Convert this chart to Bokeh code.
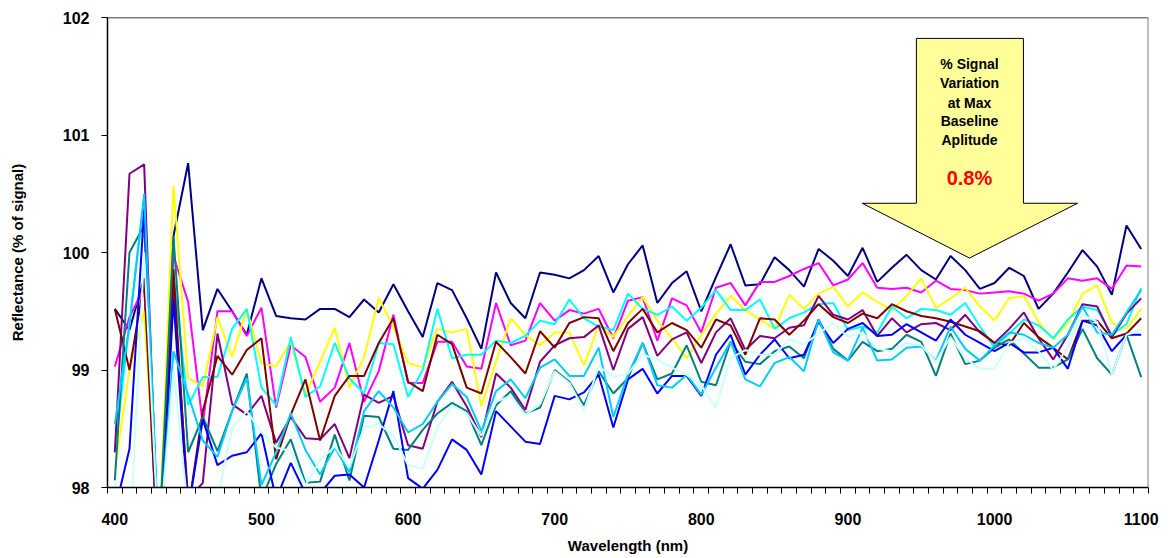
from bokeh.plotting import figure
from bokeh.models import FixedTicker, Range1d, Span, Label
from bokeh.embed import file_html
from bokeh.resources import INLINE

wavelength = list(range(400, 1101, 10))

navy = [99.52, 99.34, 99.78, 97.3, 100.14, 100.76, 99.34, 99.69, 99.50, 99.30, 99.78, 99.46,
        99.44, 99.43, 99.52, 99.52, 99.45, 99.60, 99.49, 99.73, 99.50, 99.28, 99.74, 99.68,
        99.44, 99.18, 99.83, 99.57, 99.44, 99.83, 99.81, 99.78, 99.85, 99.97, 99.66, 99.90,
        100.06, 99.57, 99.74, 99.84, 99.50, 99.79, 100.07, 99.72, 99.73, 99.96, 99.85, 99.71,
        100.03, 99.93, 99.80, 100.04, 99.75, 99.87, 99.98, 99.85, 99.77, 99.97, 99.85, 99.69,
        99.74, 99.87, 99.80, 99.52, 99.65, 99.83, 100.02, 99.88, 99.64, 100.23, 100.03]
magenta = [99.03, 99.45, 99.70, 97.5, 99.97, 99.58, 98.54, 99.50, 99.50, 99.29, 99.53, 98.68,
           99.21, 99.11, 98.73, 98.85, 99.23, 98.73, 98.99, 99.47, 98.89, 98.89, 99.24, 99.24,
           99.03, 99.01, 99.57, 99.21, 99.25, 99.57, 99.42, 99.51, 99.48, 99.52, 99.27, 99.59,
           99.62, 99.25, 99.61, 99.55, 99.32, 99.70, 99.74, 99.55, 99.75, 99.75, 99.80, 99.86,
           99.91, 99.72, 99.77, 99.91, 99.70, 99.69, 99.70, 99.66, 99.76, 99.69, 99.68, 99.65,
           99.66, 99.67, 99.65, 99.59, 99.65, 99.78, 99.76, 99.78, 99.69, 99.89, 99.88]
yellow = [98.15, 99.00, 99.50, 97.5, 100.57, 98.93, 98.86, 99.45, 99.11, 99.52, 99.06, 99.03,
          99.24, 98.79, 99.07, 99.36, 98.85, 99.11, 99.61, 99.37, 99.06, 99.02, 99.35, 99.32,
          99.35, 98.69, 99.07, 99.44, 99.30, 99.21, 99.32, 99.32, 99.04, 99.38, 99.28, 99.46,
          99.62, 99.42, 99.27, 99.10, 99.30, 99.48, 99.63, 99.51, 99.43, 99.35, 99.64, 99.52,
          99.65, 99.71, 99.54, 99.66, 99.58, 99.51, 99.63, 99.78, 99.53, 99.61, 99.70, 99.54,
          99.42, 99.61, 99.63, 99.41, 99.26, 99.40, 99.65, 99.72, 99.40, 99.35, 99.52]
cyan = [98.30, 99.40, 100.45, 97.5, 99.80, 98.70, 98.94, 98.94, 99.35, 99.52, 98.85, 98.70,
        99.28, 98.77, 98.86, 99.23, 98.93, 98.80, 99.23, 99.22, 98.77, 99.00, 99.52, 99.10,
        99.13, 99.13, 99.25, 99.23, 99.29, 99.42, 99.39, 99.60, 99.44, 99.37, 99.34, 99.65,
        99.52, 99.47, 99.54, 99.42, 99.53, 99.68, 99.51, 99.51, 99.60, 99.35, 99.44, 99.49,
        99.56, 99.57, 99.34, 99.37, 99.32, 99.54, 99.44, 99.52, 99.51, 99.47, 99.57, 99.37,
        99.19, 99.31, 99.43, 99.38, 99.27, 99.43, 99.54, 99.51, 99.30, 99.39, 99.70]
purple = [98.30, 100.67, 100.75, 97.3, 99.70, 97.9, 98.04, 99.31, 98.71, 98.62, 98.78, 98.38,
          98.60, 98.42, 98.41, 98.54, 98.25, 98.79, 98.72, 98.78, 98.36, 98.33, 98.73, 98.90,
          98.69, 98.43, 98.97, 98.85, 98.66, 99.07, 99.21, 99.27, 99.28, 99.38, 99.00, 99.35,
          99.45, 99.12, 99.26, 99.32, 99.06, 99.32, 99.44, 99.17, 99.29, 99.27, 99.36, 99.38,
          99.63, 99.47, 99.43, 99.51, 99.29, 99.44, 99.32, 99.39, 99.40, 99.34, 99.47, 99.32,
          99.23, 99.35, 99.49, 99.27, 99.09, 99.30, 99.56, 99.54, 99.28, 99.48, 99.61]
maroon = [99.52, 99.00, 99.75, 97.3, 99.86, 97.8, 98.65, 99.12, 98.96, 99.17, 99.27, 98.24,
          98.62, 98.92, 98.40, 98.78, 98.95, 98.95, 99.23, 99.44, 98.90, 98.82, 99.30, 99.22,
          98.85, 98.80, 99.24, 99.11, 98.97, 99.33, 99.19, 99.40, 99.45, 99.44, 99.16, 99.40,
          99.52, 99.32, 99.40, 99.34, 99.19, 99.43, 99.38, 99.13, 99.44, 99.43, 99.30, 99.42,
          99.56, 99.45, 99.40, 99.48, 99.44, 99.56, 99.50, 99.46, 99.44, 99.41, 99.37, 99.33,
          99.23, 99.21, 99.40, 99.28, 99.19, 99.09, 99.42, 99.42, 99.27, 99.31, 99.44]
teal = [98.06, 100.00, 100.23, 97.5, 100.14, 98.30, 98.60, 98.31, 98.65, 98.97, 97.9, 98.20,
        98.41, 98.04, 98.05, 98.45, 98.06, 98.61, 98.60, 98.33, 98.32, 98.49, 98.63, 98.72,
        98.65, 98.36, 98.70, 98.82, 98.63, 98.68, 99.00, 98.90, 98.70, 98.99, 98.80, 98.93,
        99.23, 98.92, 98.97, 99.21, 98.90, 98.87, 99.24, 99.07, 99.05, 99.16, 99.20, 99.10,
        99.43, 99.18, 99.08, 99.24, 99.16, 99.18, 99.30, 99.24, 98.95, 99.31, 99.05, 99.08,
        99.19, 99.26, 99.14, 99.02, 99.02, 99.09, 99.35, 99.10, 98.96, 99.30, 98.94]
blue = [97.8, 98.33, 100.37, 97.3, 99.60, 97.8, 98.58, 98.19, 98.27, 98.30, 98.46, 97.9,
        98.21, 97.95, 97.95, 98.10, 98.11, 98.00, 98.40, 98.82, 98.08, 97.99, 98.15, 98.41,
        98.32, 98.11, 98.65, 98.52, 98.39, 98.37, 98.78, 98.75, 98.81, 98.96, 98.51, 98.92,
        99.01, 98.80, 98.95, 98.95, 98.78, 99.13, 99.30, 98.96, 99.13, 99.26, 99.10, 99.13,
        99.41, 99.23, 99.35, 99.40, 99.29, 99.30, 99.39, 99.32, 99.25, 99.43, 99.30, 99.23,
        99.16, 99.23, 99.15, 99.15, 99.19, 99.01, 99.42, 99.38, 99.16, 99.30, 99.30]
sky_blue = [98.54, 99.38, 100.50, 97.5, 99.16, 98.79, 98.40, 98.26, 98.65, 98.93, 98.02, 98.30,
            98.63, 98.32, 98.11, 98.34, 98.13, 98.65, 98.82, 98.68, 98.47, 98.54, 98.73, 98.88,
            98.77, 98.48, 98.82, 98.92, 98.76, 99.02, 99.09, 98.95, 98.95, 99.19, 98.60, 98.96,
            99.23, 98.87, 98.85, 98.96, 98.79, 99.02, 99.24, 98.92, 98.86, 99.06, 99.11, 98.99,
            99.43, 99.15, 99.08, 99.36, 99.08, 99.09, 99.19, 99.20, 99.08, 99.37, 99.18, 99.08,
            99.21, 99.32, 99.30, 99.23, 99.19, 99.30, 99.54, 99.32, 99.30, 99.49, 99.68]
light_cyan = [98.06, 97.5, 100.00, 97.5, 99.00, 97.8, 97.8, 97.9, 98.51, 98.65, 98.47, 98.34,
              98.31, 98.02, 98.23, 98.35, 98.17, 98.51, 98.54, 98.44, 98.19, 98.16, 98.51, 98.70,
              98.63, 98.44, 98.73, 98.78, 98.62, 98.71, 98.99, 98.89, 98.66, 99.03, 98.94, 98.97,
              99.13, 99.09, 99.02, 98.96, 98.87, 98.68, 99.10, 99.17, 99.13, 99.13, 99.26, 99.22,
              99.31, 99.40, 99.28, 99.32, 99.18, 99.16, 99.23, 99.21, 99.07, 99.28, 99.10, 99.01,
              99.01, 99.23, 99.27, 99.16, 99.00, 99.20, 99.47, 99.41, 98.96, 99.30, 99.34]

series = [navy, magenta, yellow, cyan, purple, maroon, teal, blue, sky_blue, light_cyan]
colors = ["#000080", "#FF00FF", "#FFFF00", "#00FFFF", "#800080", "#800000",
          "#008080", "#0000FF", "#00CCFF", "#CCFFFF"]

# annotation arrow (data coordinates)
arrow_x = [946.7, 1019.7, 1019.7, 1056.6, 982.9, 909.8, 946.7]
arrow_y = [101.822, 101.822, 100.419, 100.419, 99.953, 100.419, 100.419]
arrow_lines = ["% Signal", "Variation", "at Max", "Baseline", "Aplitude"]
arrow_line_y = [101.608, 101.439, 101.275, 101.115, 100.954]
arrow_value = "0.8%"

FONT = "Liberation Sans"

p = figure(width=1160, height=556, x_range=Range1d(395, 1105), y_range=Range1d(98, 102),
           output_backend="svg", toolbar_location=None,
           min_border_left=107, min_border_right=12, min_border_top=17, min_border_bottom=66)
p.outline_line_color = None
p.grid.visible = False
p.background_fill_color = "white"
p.border_fill_color = "white"

for vals, c in zip(series, colors):
    p.line(wavelength, vals, line_color=c, line_width=2)

p.patch(arrow_x, arrow_y, fill_color="#FFFF99", line_color="black", line_width=1)
for t, yy in zip(arrow_lines, arrow_line_y):
    p.add_layout(Label(x=982.9, y=yy, text=t, text_align="center", text_baseline="middle",
                       text_font=FONT, text_font_style="bold", text_font_size="14px",
                       text_color="black"))
p.add_layout(Label(x=982.9, y=100.636, text=arrow_value, text_align="center",
                   text_baseline="middle", text_font=FONT, text_font_style="bold",
                   text_font_size="20px", text_color="#FF0000"))

p.add_layout(Span(location=102, dimension="width", line_color="black", line_width=1.5))
p.add_layout(Span(location=1105, dimension="height", line_color="#808080", line_width=2))

xa = p.xaxis[0]
xa.ticker = FixedTicker(ticks=list(range(400, 1101, 100)), minor_ticks=list(range(395, 1106, 10)))
xa.major_tick_out = 0
xa.major_tick_in = 0
xa.minor_tick_out = 6
xa.minor_tick_in = 0
xa.minor_tick_line_color = "black"
xa.axis_line_color = "black"
xa.axis_line_width = 1.5
xa.major_label_standoff = 19
xa.axis_label = "Wavelength (nm)"
xa.axis_label_standoff = 9

ya = p.yaxis[0]
ya.ticker = FixedTicker(ticks=[98, 99, 100, 101, 102])
ya.major_tick_out = 6
ya.major_tick_in = 0
ya.minor_tick_out = 0
ya.minor_tick_in = 0
ya.axis_line_color = "black"
ya.axis_line_width = 1.5
ya.major_label_standoff = 12
ya.axis_label = "Reflectance (% of signal)"
ya.axis_label_standoff = 34

for ax in (xa, ya):
    ax.major_label_text_font = FONT
    ax.major_label_text_font_style = "bold"
    ax.major_label_text_font_size = "16px"
    ax.major_label_text_color = "black"
    ax.axis_label_text_font = FONT
    ax.axis_label_text_font_style = "bold"
    ax.axis_label_text_font_size = "15px"
    ax.axis_label_text_color = "black"

open("out.html", "w").write(file_html(p, INLINE))
